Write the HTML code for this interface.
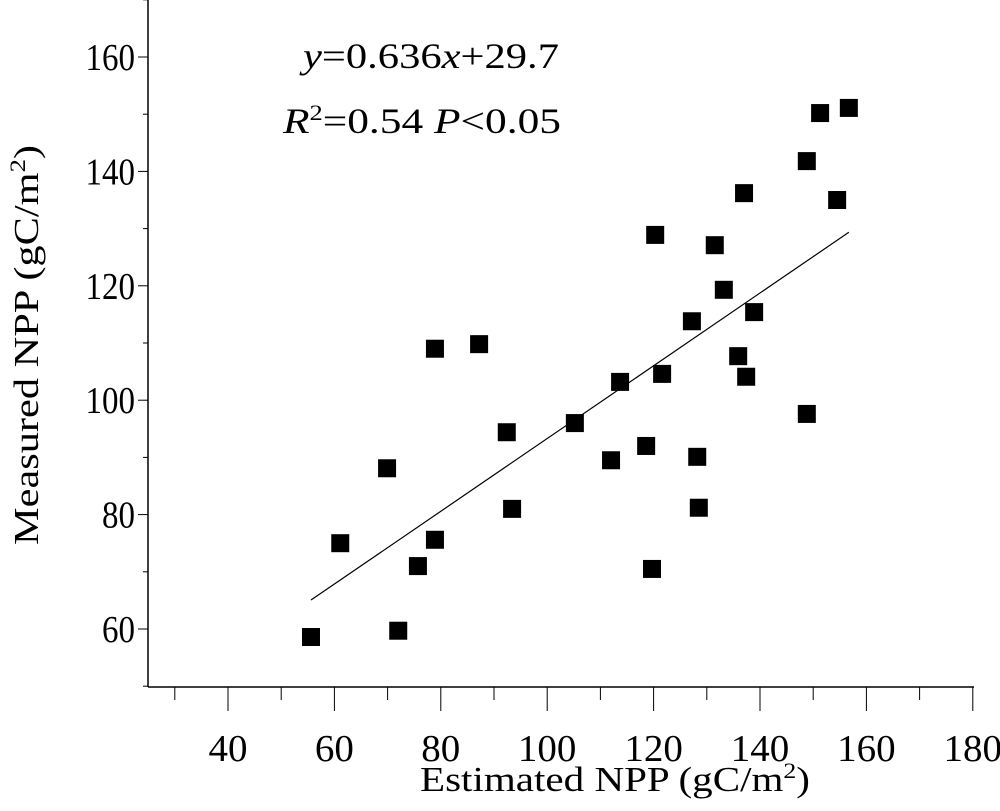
<!DOCTYPE html>
<html><head><meta charset="utf-8"><style>
html,body{margin:0;padding:0;background:#fff}
svg text{font-family:"Liberation Serif",serif;fill:#000}
</style></head><body>
<svg id="chart" width="1000" height="806" viewBox="0 0 1000 806" xmlns="http://www.w3.org/2000/svg">
<g id="axes"></g>
<g id="points"></g>
<text x="303" y="68" font-size="36" textLength="256" lengthAdjust="spacingAndGlyphs"><tspan font-style="italic">y</tspan>=0.636<tspan font-style="italic">x</tspan>+29.7</text>
<text x="283" y="133" font-size="36" textLength="278" lengthAdjust="spacingAndGlyphs"><tspan font-style="italic">R</tspan><tspan font-size="22" dy="-13">2</tspan><tspan dy="13">=0.54 </tspan><tspan font-style="italic">P</tspan>&lt;0.05</text>
<text x="420" y="791" font-size="35" textLength="390" lengthAdjust="spacingAndGlyphs">Estimated NPP (gC/m<tspan font-size="22" dy="-13">2</tspan><tspan dy="13">)</tspan></text>
<text transform="translate(38,545) rotate(-90)" font-size="35" textLength="400" lengthAdjust="spacingAndGlyphs">Measured NPP (gC/m<tspan font-size="22" dy="-13">2</tspan><tspan dy="13">)</tspan></text>
</svg>
<script>
const xVals=[55.6,61.1,69.9,75.7,72.0,78.9,78.9,87.2,92.4,93.4,105.2,112.0,113.7,118.6,119.7,120.3,121.6,127.2,128.2,128.5,131.5,133.2,135.9,137.4,137.0,138.9,148.8,148.8,151.3,154.5,156.7];
const yVals=[58.6,75.0,88.1,71.0,59.7,75.6,109.0,109.8,94.4,81.0,96.0,89.5,103.2,92.0,70.5,128.9,104.6,113.8,90.1,81.2,127.1,119.3,107.7,104.1,136.2,115.4,97.6,141.8,150.2,135.0,151.1];
const xTicks=[40,60,80,100,120,140,160,180];
const yTicks=[60,80,100,120,140,160];
const slope=0.636, intercept=29.7;
const ns="http://www.w3.org/2000/svg";
function sx(v){return 228+(v-40)*5.32;}
function sy(v){return 57+(160-v)*5.72;}
function mk(tag,attrs,parent){const e=document.createElementNS(ns,tag);for(const k in attrs)e.setAttribute(k,attrs[k]);parent.appendChild(e);return e;}
const ax=document.getElementById('axes');
let l=mk('line',{x1:148,y1:0,x2:148,y2:687,stroke:'#000','stroke-width':1.5},ax);


l=mk('line',{x1:148,y1:687,x2:974,y2:687,stroke:'#000','stroke-width':1.5},ax);


for(let v=30;v<=180;v+=10){const major=v%20===0;const t=mk('line',{x1:sx(v),y1:687,x2:sx(v),y2:major?711:700,stroke:'#000','stroke-width':1},ax);

}
xTicks.forEach(v=>{const s=String(v);const t=mk('text',{x:sx(v),y:761,'font-size':38,'text-anchor':'middle',textLength:s.length*19.5,lengthAdjust:'spacingAndGlyphs'},ax);t.textContent=s;

});
for(let v=50;v<=170;v+=10){const major=v%20===0;const t=mk('line',{x1:major?138:143,y1:sy(v),x2:148,y2:sy(v),stroke:'#000','stroke-width':1},ax);

}
yTicks.forEach(v=>{const s=String(v);const t=mk('text',{x:135,y:sy(v)+13,'font-size':38,'text-anchor':'end',textLength:s.length*16.5,lengthAdjust:'spacingAndGlyphs'},ax);t.textContent=s;

});
const pts=document.getElementById('points');
const xmin=Math.min(...xVals),xmax=Math.max(...xVals);
const fl=mk('line',{x1:sx(xmin),y1:sy(slope*xmin+intercept),x2:sx(xmax),y2:sy(slope*xmax+intercept),stroke:'#000','stroke-width':1.2},pts);


xVals.forEach((x,i)=>{const r=mk('rect',{x:sx(x)-9,y:sy(yVals[i])-9,width:18,height:18,fill:'#000'},pts);

});
</script>
</body></html>
